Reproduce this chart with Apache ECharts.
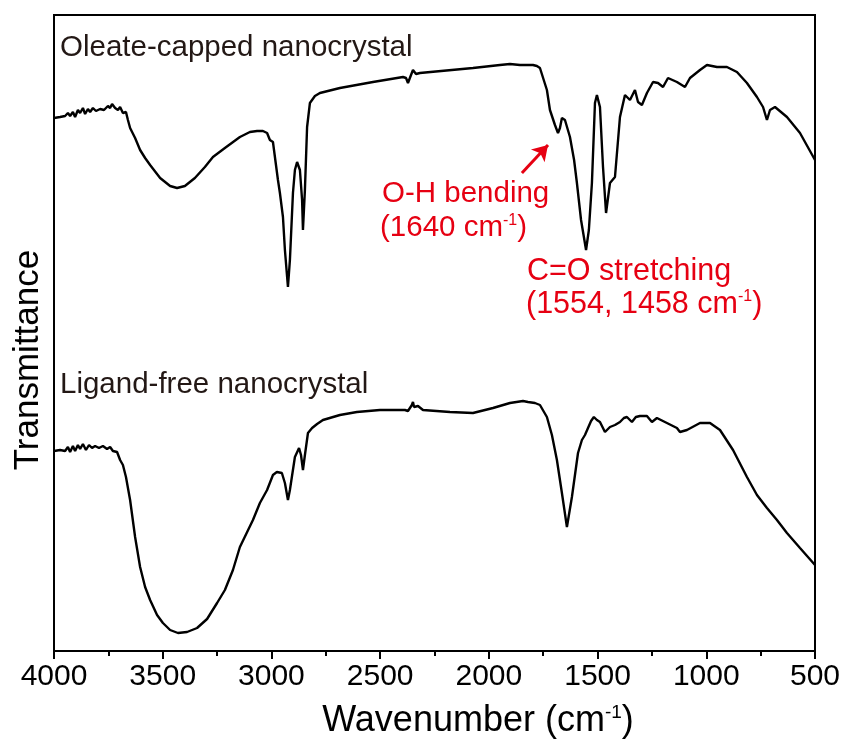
<!DOCTYPE html>
<html>
<head>
<meta charset="utf-8">
<script src="https://cdn.jsdelivr.net/npm/echarts@6/dist/echarts.min.js"></script>
<style>html,body{margin:0;padding:0;background:#fff;}#c{width:842px;height:742px;}</style>
</head>
<body>
<div id="c"></div>
<script>
// X ticks (wavenumber, cm-1)
const xTicks = [4000, 3500, 3000, 2500, 2000, 1500, 1000, 500];

// Oleate-capped nanocrystal (upper trace), arbitrary transmittance units
const oleateWn = [4000,3972,3949,3936,3926,3913,3903,3890,3880,3867,3857,3844,3834,3821,3807,3788,3770,3752,3742,3733,3719,3706,3696,3683,3669,3660,3650,3627,3604,3581,3558,3512,3466,3434,3398,3352,3306,3269,3214,3145,3099,3066,3039,3020,3007,2993,2984,2970,2961,2947,2938,2924,2915,2901,2892,2882,2869,2859,2855,2846,2836,2823,2800,2777,2685,2533,2395,2381,2372,2358,2349,2335,2317,2073,1949,1903,1857,1797,1779,1765,1733,1719,1696,1682,1673,1664,1650,1627,1608,1595,1576,1553,1540,1526,1512,1503,1489,1475,1461,1443,1420,1397,1374,1351,1328,1314,1296,1273,1245,1222,1199,1176,1135,1098,1075,1029,997,951,905,859,813,767,739,721,707,684,629,569,500];
const oleateT  = [533,534,535,538,535,539,534,541,538,543,537,542,539,543,540,542,541,545,543,547,543,541,544,538,539,531,523,513,501,493,486,473,465,463,465,473,484,494,503,514,519,520,520,518,511,509,508,471,458,434,401,364,391,458,481,489,481,451,421,461,524,548,555,558,563,569,574,573,568,576,581,577,578,583,586,587,586,586,585,583,561,541,526,518,523,533,531,514,491,468,431,401,421,468,548,556,544,484,438,468,474,534,556,551,561,549,546,558,569,568,564,573,569,564,573,581,586,584,584,579,568,554,544,531,541,544,534,518,491];

// Ligand-free nanocrystal (lower trace)
const ligandWn = [4000,3972,3949,3936,3926,3913,3903,3890,3880,3867,3853,3839,3825,3811,3793,3775,3756,3742,3729,3710,3696,3683,3669,3650,3627,3604,3581,3558,3526,3499,3466,3430,3388,3342,3296,3250,3214,3177,3145,3085,3053,3020,2993,2975,2952,2938,2924,2915,2906,2892,2873,2864,2855,2846,2832,2813,2790,2763,2685,2607,2501,2386,2372,2363,2354,2349,2344,2340,2326,2303,2179,2073,1981,1903,1843,1820,1788,1765,1733,1710,1687,1664,1641,1618,1590,1572,1558,1544,1530,1517,1503,1489,1466,1443,1420,1397,1379,1365,1342,1324,1305,1273,1250,1227,1181,1135,1121,1089,1029,983,937,877,813,767,721,675,629,569,500];
const ligandT  = [200,201,200,204,199,205,200,206,202,207,201,206,203,205,203,205,202,204,200,199,191,186,174,151,114,84,64,51,36,28,21,18,19,23,32,48,61,81,104,131,148,161,176,179,178,168,151,161,174,194,203,196,181,196,218,223,227,231,236,239,241,241,240,238,246,249,244,243,245,241,239,238,243,248,250,249,248,246,234,216,191,158,124,154,198,211,216,223,230,234,231,229,219,224,226,229,233,234,229,234,235,235,229,233,228,223,219,221,228,228,221,201,174,156,143,131,118,103,86];

// Annotation arrow (data coords): tail -> head
const arrowFrom = [1848, 478];
const arrowTo   = [1728, 506];

const zip = (a, b) => a.map((v, i) => [v, b[i]]);
const RED = '#e60012';
const TXT = '#231815';
const FONT = 'Arial, "Liberation Sans", Helvetica, sans-serif';

const chart = echarts.init(document.getElementById('c'), null, {renderer: 'canvas'});
chart.setOption({
  animation: false,
  backgroundColor: '#fff',
  grid: {left: 54, right: 27, top: 15, bottom: 91, show: true, borderColor: '#000', borderWidth: 2,
         backgroundColor: 'transparent', containLabel: false, outerBoundsMode: 'none'},
  xAxis: {
    type: 'value', inverse: true, min: 500, max: 4000, interval: 500,
    axisLine: {show: true, onZero: false, lineStyle: {color: '#000', width: 2}},
    axisTick: {show: true, length: 8, lineStyle: {color: '#000', width: 2}},
    minorTick: {show: true, splitNumber: 2, length: 5, lineStyle: {color: '#000', width: 2}},
    splitLine: {show: false},
    axisLabel: {color: '#000', fontFamily: FONT, fontSize: 30, margin: 11, formatter: v => String(v)}
  },
  yAxis: {
    type: 'value', min: 0, max: 636,
    axisLine: {show: true, lineStyle: {color: '#000', width: 2}},
    axisTick: {show: false}, axisLabel: {show: false}, splitLine: {show: false}
  },
  series: [
    {type: 'line', data: zip(oleateWn, oleateT), showSymbol: false, smooth: false,
     lineStyle: {color: '#000', width: 2.4}, z: 3,
     markLine: {silent: true, symbol: ['none', 'arrow'], symbolSize: [14, 15],
       lineStyle: {color: RED, width: 3, type: 'solid'}, label: {show: false},
       data: [[{coord: arrowFrom}, {coord: arrowTo}]]}},
    {type: 'line', data: zip(ligandWn, ligandT), showSymbol: false, smooth: false,
     lineStyle: {color: '#000', width: 2.4}, z: 3}
  ],
  graphic: [
    {type: 'text', x: 478, y: 721,
     style: {text: '{t|Wavenumber (cm}{s|-1}{t|)}', align: 'center', verticalAlign: 'middle', rich: {
       t: {font: '36px ' + FONT, fill: '#000'},
       s: {font: '19px ' + FONT, fill: '#000', verticalAlign: 'top', padding: [0,0,16,0]}}}},
    {type: 'text', x: 28, y: 360, rotation: Math.PI / 2,
     style: {text: 'Transmittance', font: '35px ' + FONT, fill: '#000', align: 'center', verticalAlign: 'middle'}},
    {type: 'text', left: 60, top: 33, style: {text: 'Oleate-capped nanocrystal', font: '29.5px ' + FONT, fill: TXT}},
    {type: 'text', left: 60, top: 370, style: {text: 'Ligand-free nanocrystal', font: '29.5px ' + FONT, fill: TXT}},
    {type: 'text', left: 382, top: 179, style: {text: 'O-H bending', font: '29.5px ' + FONT, fill: RED}},
    {type: 'text', left: 380, top: 213, style: {text: '{t|(1640 cm}{s|-1}{t|)}', rich: {
      t: {font: '29.5px ' + FONT, fill: RED}, s: {font: '16px ' + FONT, fill: RED, verticalAlign: 'top', padding: [0,0,13,0]}}}},
    {type: 'text', left: 527, top: 256, style: {text: 'C=O stretching', font: '30.5px ' + FONT, fill: RED}},
    {type: 'text', left: 526, top: 289, style: {text: '{t|(1554, 1458 cm}{s|-1}{t|)}', rich: {
      t: {font: '30.5px ' + FONT, fill: RED}, s: {font: '16px ' + FONT, fill: RED, verticalAlign: 'top', padding: [0,0,13,0]}}}}
  ]
});
</script>
</body>
</html>
